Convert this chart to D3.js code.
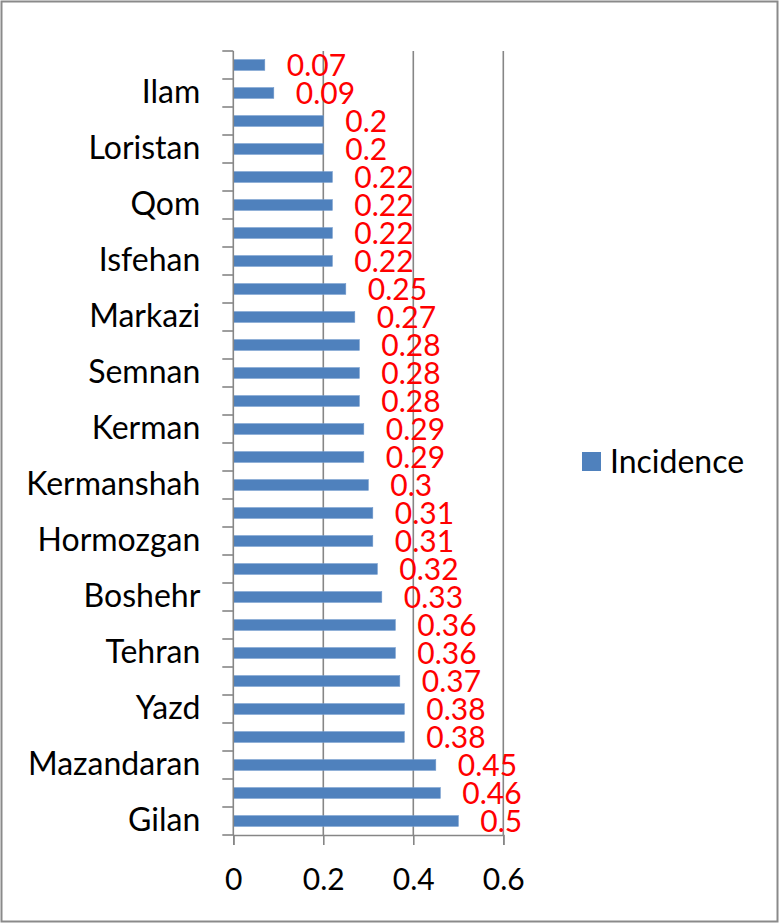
<!DOCTYPE html>
<html>
<head>
<meta charset="utf-8">
<script src="https://cdn.jsdelivr.net/npm/d3@7"></script>
<style>
  html, body { margin: 0; padding: 0; background: #fff; }
  svg { display: block; }
  text { font-family: Lato, "Open Sans", sans-serif; }
</style>
</head>
<body>
<svg id="chart" width="779" height="923"></svg>
<script>
// Categories listed top to bottom (only every other label is shown, as in the original)
const categories = [
  "Sistan and Baluchestan", "Ilam",
  "Kohgiluyeh", "Loristan",
  "Chaharmahal", "Qom",
  "Fars", "Isfehan",
  "Hamadan", "Markazi",
  "Zanjan", "Semnan",
  "Qazvin", "Kerman",
  "Kurdistan", "Kermanshah",
  "Khuzestan", "Hormozgan",
  "Ardabil", "Boshehr",
  "Golestan", "Tehran",
  "Khorasan", "Yazd",
  "East Azerbaijan", "Mazandaran",
  "West Azerbaijan", "Gilan"
];
const incidence = [
  0.07, 0.09,
  0.2, 0.2,
  0.22, 0.22,
  0.22, 0.22,
  0.25, 0.27,
  0.28, 0.28,
  0.28, 0.29,
  0.29, 0.3,
  0.31, 0.31,
  0.32, 0.33,
  0.36, 0.36,
  0.37, 0.38,
  0.38, 0.45,
  0.46, 0.5
];
const xTicks = [0, 0.2, 0.4, 0.6];
const xTickLabels = ["0", "0.2", "0.4", "0.6"];
const seriesName = "Incidence";

const data = categories.map((c, i) => ({ cat: c, v: incidence[i] }));

const svg = d3.select("#chart");
const barColor = "#4f81bd";
const axisColor = "#868686";
const wordSize = 32, numSize = 30;

// outer border
svg.append("rect")
  .attr("x", 1.5).attr("y", 1.5)
  .attr("width", 776).attr("height", 920)
  .attr("fill", "#fff")
  .attr("stroke", "#8a8a8a").attr("stroke-width", 2);

const pLeft = 233.3, pRight = 503.3, pTop = 51, pBottom = 835;

const x = d3.scaleLinear().domain([0, 0.6]).range([pLeft, pRight]);
const y = d3.scaleBand().domain(categories).range([pTop, pBottom])
  .paddingInner(0.62).paddingOuter(0.31);

// gridlines
svg.append("g").selectAll("line")
  .data(xTicks.filter(t => t > 0))
  .join("line")
  .attr("x1", d => x(d)).attr("x2", d => x(d))
  .attr("y1", pTop).attr("y2", pBottom)
  .attr("stroke", axisColor).attr("stroke-width", 1.6);

// bars
svg.append("g").selectAll("rect")
  .data(data)
  .join("rect")
  .attr("x", x(0))
  .attr("y", d => y(d.cat))
  .attr("width", d => x(d.v) - x(0))
  .attr("height", y.bandwidth())
  .attr("fill", barColor)
  .attr("stroke", "#6f98cc").attr("stroke-width", 0.6);

// x axis
const xAxis = d3.axisBottom(x)
  .tickValues(xTicks)
  .tickFormat((d, i) => xTickLabels[i])
  .tickSize(10)
  .tickPadding(24);
const gx = svg.append("g").attr("transform", `translate(0,${pBottom})`).call(xAxis);
gx.select(".domain").attr("stroke", axisColor).attr("stroke-width", 1.6);
gx.selectAll(".tick line").attr("stroke", axisColor).attr("stroke-width", 1.6);
gx.selectAll(".tick text")
  .attr("font-size", numSize).attr("fill", "#000")
  .style("font-family", "Lato, 'Open Sans', sans-serif");

// y axis (labels on every other category)
const yAxis = d3.axisLeft(y)
  .tickValues(categories.filter((c, i) => i % 2 === 1))
  .tickSize(0)
  .tickPadding(33);
const gy = svg.append("g").attr("transform", `translate(${pLeft},0)`).call(yAxis);
gy.select(".domain").remove();
gy.selectAll(".tick text")
  .attr("font-size", wordSize).attr("fill", "#000")
  .style("font-family", "Lato, 'Open Sans', sans-serif");

// y axis line and tick marks between categories
const bounds = d3.range(categories.length + 1).map(i => pTop + i * y.step());
svg.append("line")
  .attr("x1", pLeft).attr("x2", pLeft).attr("y1", pTop).attr("y2", pBottom)
  .attr("stroke", axisColor).attr("stroke-width", 1.6);
svg.append("g").selectAll("line")
  .data(bounds)
  .join("line")
  .attr("x1", pLeft - 11).attr("x2", pLeft)
  .attr("y1", d => d).attr("y2", d => d)
  .attr("stroke", axisColor).attr("stroke-width", 1.6);

// value labels
svg.append("g").selectAll("text")
  .data(data)
  .join("text")
  .attr("x", d => x(d.v) + 22)
  .attr("y", d => y(d.cat) + y.bandwidth() / 2)
  .attr("dy", "0.36em")
  .attr("font-size", numSize)
  .attr("fill", "#ff0000")
  .text(d => String(d.v));

// legend
const lg = svg.append("g");
lg.append("rect")
  .attr("x", 582).attr("y", 452).attr("width", 19).attr("height", 19)
  .attr("fill", barColor);
lg.append("text")
  .attr("x", 610).attr("y", 461.5).attr("dy", "0.36em")
  .attr("font-size", wordSize).attr("fill", "#000")
  .text(seriesName);
</script>
</body>
</html>
